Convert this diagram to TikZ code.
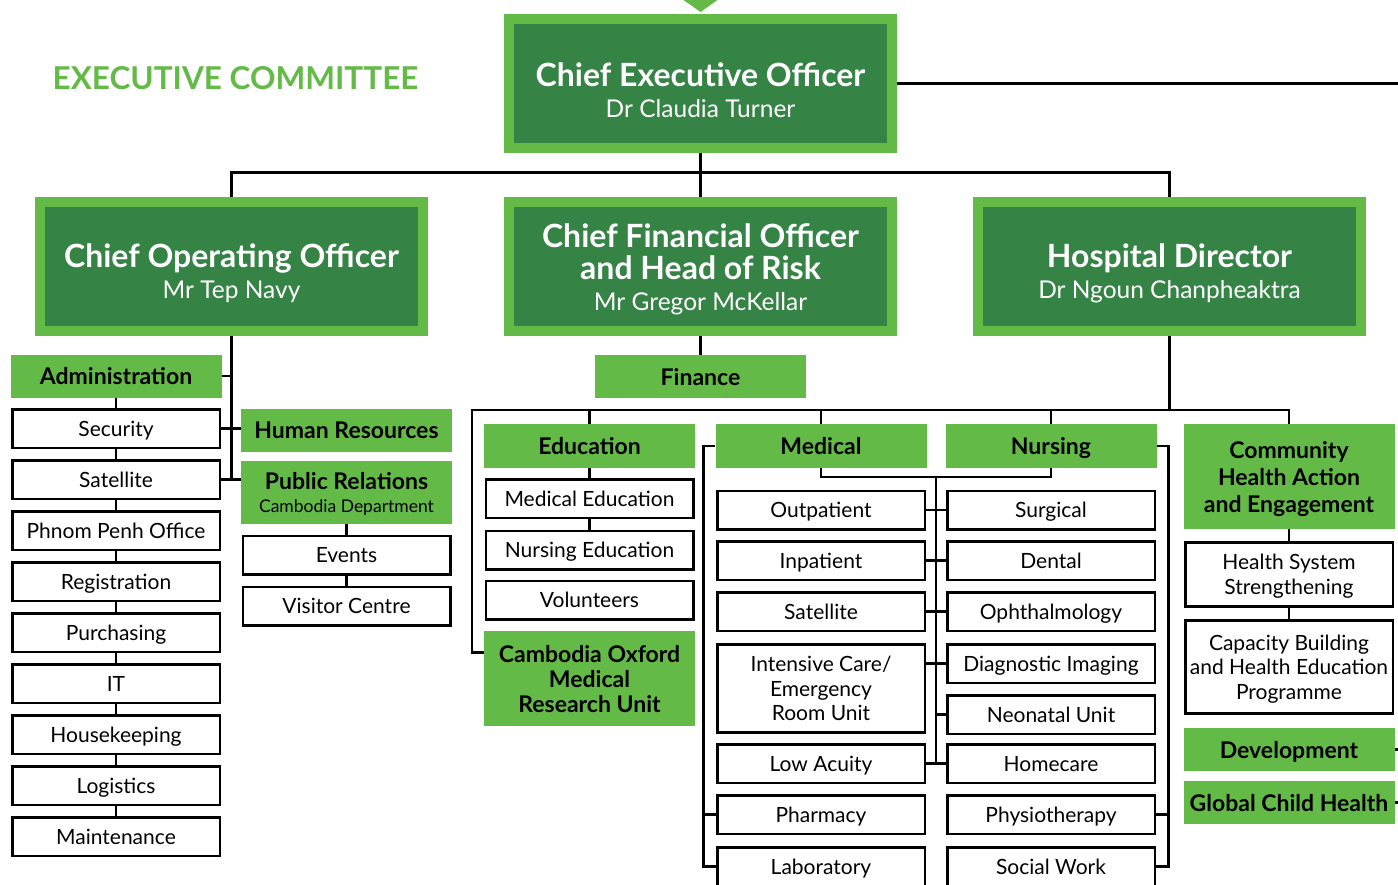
\documentclass[tikz,border=0pt]{standalone}
\usepackage{fontspec}
\setmainfont{Lato}
\usetikzlibrary{positioning}

\definecolor{lightGreen}{RGB}{99,186,71}
\definecolor{darkGreen}{RGB}{53,131,69}

\newcommand{\execName}[1]{{\fontsize{24.5}{31}\selectfont\mdseries #1}}
% title and name of an executive, lowered a little inside its box
\newcommand{\execText}[3][10pt]{\raisebox{-#1}[\height][\depth]{%
   \begin{tabular}{@{}c@{}}#2\\\execName{#3}\end{tabular}}}

\tikzstyle{execBox} = [rectangle, fill=darkGreen, draw=lightGreen, line width=10pt,
   text=white, align=center, inner sep=0, minimum width=383pt, minimum height=129pt,
   font=\fontsize{32}{31}\selectfont\bfseries]
\tikzstyle{headBox} = [rectangle, fill=lightGreen, align=center, inner sep=0,
   minimum width=211pt, minimum height=43pt, text depth=0pt,
   font=\fontsize{23}{25}\selectfont\bfseries]
\tikzstyle{unitBox} = [rectangle, draw, fill=white, line width=2.5pt, align=center,
   inner sep=0, minimum width=207.5pt, minimum height=38.5pt, text depth=0pt,
   font=\fontsize{21}{24.5}\selectfont]
\tikzstyle{link} = [line width=2.5pt]

\begin{document}
\begin{tikzpicture}[x=1pt, y=-1pt, node distance=51pt]
  \useasboundingbox (0,0) rectangle (1398,884);
  \clip (0,0) rectangle (1398,884);
  \coordinate (rim) at (1402,0); % right edge of the page

  % executive committee
  \node[text=lightGreen, font=\fontsize{31.5}{34}\selectfont\bfseries] (title) at (235.5,78) {EXECUTIVE COMMITTEE};
  \node[execBox] (ceo) at (700.5,83.5) {\execText[11.5pt]{Chief Executive Officer}{Dr Claudia Turner}};
  \node[execBox] (coo) at (231.5,266) {\execText{Chief Operating Officer}{Mr Tep Navy}};
  \node[execBox] (cfo) at (700.5,266)
    {\execText[6pt]{Chief Financial Officer\\[-1pt]and Head of Risk}{Mr Gregor McKellar}};
  \node[execBox] (hd) at (1169.5,266) {\execText{Hospital Director}{Dr Ngoun Chanpheaktra}};
  \fill[lightGreen] (ceo.north) ++(-17,-14) -- ++(34,0) -- ++(-17,12) -- cycle;

  \draw[link] (ceo.south) -- (cfo.north);
  \draw[link] (coo.north) -- ++(0,-24) -| (hd.north);
  \draw[link] (ceo.east) -- (ceo.east -| rim);

  % administration
  \node[headBox] (adm) at (116,376) {Administration};
  \node[unitBox, below of=adm, node distance=52.5pt] (sec) {Security};
  \node[unitBox, below of=sec] (asat) {Satellite};
  \node[unitBox, below of=asat] (pp) {Phnom Penh Office};
  \node[unitBox, below of=pp] (reg) {Registration};
  \node[unitBox, below of=reg] (purch) {Purchasing};
  \node[unitBox, below of=purch] (it) {IT};
  \node[unitBox, below of=it] (house) {Housekeeping};
  \node[unitBox, below of=house] (logi) {Logistics};
  \node[unitBox, below of=logi] (maint) {Maintenance};
  \foreach \a/\b in {adm/sec, sec/asat, asat/pp, pp/reg, reg/purch, purch/it, it/house, house/logi, logi/maint}
    \draw[link] (\a.south) -- (\b.north);

  \node[headBox] (hr) at (346.5,430.5) {Human Resources};
  \node[headBox, minimum height=63pt, below of=hr, node distance=62pt] (pr)
    {Public Relations\\[-2pt]{\fontsize{17.5}{19}\selectfont\mdseries Cambodia Department}};
  \node[unitBox, below of=pr, node distance=62.5pt] (events) {Events};
  \node[unitBox, below of=events] (visit) {Visitor Centre};
  \draw[link] (pr.south) -- (events.north);
  \draw[link] (events.south) -- (visit.north);

  \draw[link] (coo.south) -- (coo.south |- asat.east);
  \draw[link] (adm.east) -- (coo.south |- adm.east);
  \draw[link] (sec.east) -- (hr.west |- sec.east);
  \draw[link] (asat.east) -- (pr.west |- asat.east);

  % finance
  \node[headBox] (fin) at (700.5,376.5) {Finance};
  \draw[link] (cfo.south) -- (fin.north);

  % education
  \node[headBox, minimum height=44pt] (edu) at (589.5,446) {Education};
  \node[unitBox, below of=edu, node distance=52.5pt] (medu) {Medical Education};
  \node[unitBox, below of=medu, node distance=51.5pt] (nedu) {Nursing Education};
  \node[unitBox, below of=nedu, node distance=50pt] (vol) {Volunteers};
  \node[headBox, minimum height=95pt, below of=vol, node distance=78.5pt] (coxf) {Cambodia Oxford\\Medical\\Research Unit};
  \draw[link] (edu.south) -- (medu.north);
  \draw[link] (medu.south) -- (nedu.north);

  % medical
  \node[headBox, minimum height=44pt] (med) at (821,446) {Medical};
  \node[unitBox, below of=med, node distance=64pt] (outp) {Outpatient};
  \node[unitBox, below of=outp, node distance=50.5pt] (inp) {Inpatient};
  \node[unitBox, below of=inp] (msat) {Satellite};
  \node[unitBox, minimum height=88pt, below of=msat, node distance=77pt] (icu) {Intensive Care/\\Emergency\\Room Unit};
  \node[unitBox, below of=icu, node distance=75pt] (lowac) {Low Acuity};
  \node[unitBox, below of=lowac] (pharm) {Pharmacy};
  \node[unitBox, below of=pharm, node distance=52pt] (lab) {Laboratory};

  % nursing
  \node[headBox, minimum height=44pt] (nurs) at (1051,446) {Nursing};
  \node[unitBox, below of=nurs, node distance=64pt] (surg) {Surgical};
  \node[unitBox, below of=surg, node distance=50.5pt] (dent) {Dental};
  \node[unitBox, below of=dent] (ophth) {Ophthalmology};
  \node[unitBox, below of=ophth, node distance=52pt] (diag) {Diagnostic Imaging};
  \node[unitBox, below of=diag] (neo) {Neonatal Unit};
  \node[unitBox, below of=neo, node distance=49pt] (homec) {Homecare};
  \node[unitBox, below of=homec] (physio) {Physiotherapy};
  \node[unitBox, below of=physio, node distance=52pt] (socw) {Social Work};

  % community
  \node[headBox, minimum height=105pt, font=\fontsize{23}{27}\selectfont\bfseries] (comm) at (1289,476.5) {Community\\Health Action\\and Engagement};
  \node[unitBox, minimum height=64pt, below of=comm, node distance=98pt] (hss) {Health System\\Strengthening};
  \node[unitBox, minimum height=93pt, below of=hss, node distance=92.5pt] (cap) {Capacity Building\\and Health Education\\Programme};
  \node[headBox, minimum height=43pt, below of=cap, node distance=82.5pt] (dev) {Development};
  \node[headBox, minimum height=43pt, below of=dev, node distance=53pt] (gch) {Global Child Health};
  \draw[link] (comm.south) -- (hss.north);
  \draw[link] (hss.south) -- (cap.north);
  \draw[link] (dev.east) -- (dev.east -| rim);
  \draw[link] (gch.east) -- (gch.east -| rim);

  % branches under the hospital director
  \coordinate (branch) at (472,410);
  \draw[link] (hd.south) -- (hd.south |- branch);
  \draw[link] ([yshift=26pt]coxf.west) -| (branch) -| (comm.north);
  \foreach \n in {edu, med, nurs}
    \draw[link] (\n.north) -- (\n.north |- branch);

  % spine between medical and nursing
  \draw[link] (med.south) -- ++(0,9) coordinate (meet) -| (nurs.south);
  \coordinate (spine) at (936,0);
  \draw[link] (spine |- meet) -- (spine |- homec.west);
  \foreach \a/\b in {outp/surg, inp/dent, msat/ophth, lowac/homec}
    \draw[link] (\a.east) -- (\b.west);
  \draw[link] (icu.east |- diag.west) -- (diag.west);
  \draw[link] (spine |- neo.west) -- (neo.west);

  % outer brackets
  \draw[link] (med.west) -- ++(-12,0) |- (lab.west);
  \draw[link] (pharm.west) -- ++(-12,0);
  \draw[link] (nurs.east) -- ++(12,0) |- (socw.east);
  \draw[link] (physio.east) -- ++(12,0);
\end{tikzpicture}
\end{document}
